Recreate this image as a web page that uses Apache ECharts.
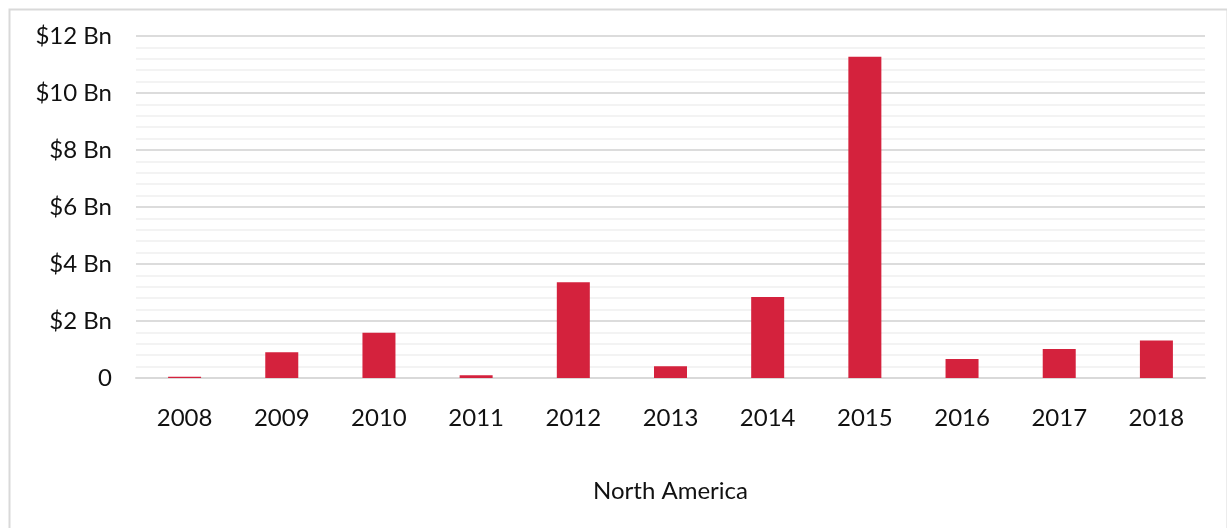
<!DOCTYPE html>
<html>
<head>
<meta charset="utf-8">
<script src="https://cdn.jsdelivr.net/npm/echarts@6/dist/echarts.min.js"></script>
<style>
  html, body { margin: 0; padding: 0; background: #fff; }
  #chart { width: 1227px; height: 528px; }
</style>
</head>
<body>
<div id="chart"></div>
<script>
// Annual deal value, North America (billions of USD)
const years = ['2008', '2009', '2010', '2011', '2012', '2013', '2014', '2015', '2016', '2017', '2018'];
const valuesBn = [0.04, 0.9, 1.59, 0.1, 3.36, 0.41, 2.84, 11.27, 0.67, 1.02, 1.32];
const regionName = 'North America';

const chart = echarts.init(document.getElementById('chart'));
const FONT = 'Lato, "Noto Sans", sans-serif';

chart.setOption({
  animation: false,
  backgroundColor: '#ffffff',
  graphic: [{
    type: 'rect',
    left: 7, top: 7,
    shape: { width: 1218, height: 540 },
    style: { fill: 'none', stroke: '#d9d9d9', lineWidth: 2 },
    z: -1
  }],
  grid: { left: 136, right: 22, top: 36, bottom: 150 },
  xAxis: {
    type: 'category',
    data: years,
    name: regionName,
    nameLocation: 'middle',
    nameGap: 101,
    nameTextStyle: { fontFamily: FONT, fontSize: 24, color: '#111' },
    axisLine: { lineStyle: { color: '#d9d9d9', width: 2 } },
    axisTick: { show: false },
    axisLabel: { fontFamily: FONT, fontSize: 24, color: '#111', margin: 28 }
  },
  yAxis: {
    type: 'value',
    min: 0, max: 12, interval: 2,
    axisLine: { show: false },
    axisTick: { show: false },
    axisLabel: {
      fontFamily: FONT, fontSize: 24, color: '#111', margin: 24,
      padding: [5, 0, 0, 0],
      formatter: v => v === 0 ? '0' : '$' + v + ' Bn'
    },
    splitLine: { lineStyle: { color: '#dcdcdc', width: 2 } },
    minorTick: { show: false, splitNumber: 5 },
    minorSplitLine: { show: true, lineStyle: { color: '#f3f3f3', width: 2 } }
  },
  series: [{
    type: 'bar',
    data: valuesBn,
    barWidth: 33,
    itemStyle: { color: '#d4223d' }
  }]
});
</script>
</body>
</html>
